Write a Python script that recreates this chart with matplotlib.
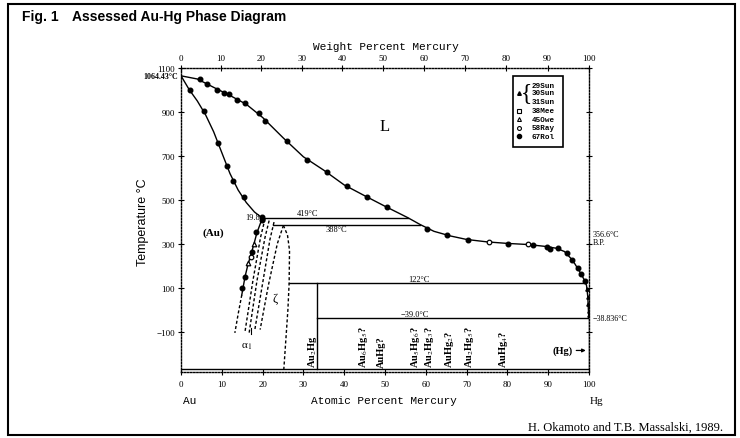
import matplotlib.pyplot as plt
import numpy as np
from matplotlib.patches import Rectangle

W, H = 740, 439

# ---- phase boundaries (atomic % Hg, temperature in C) ----
liq_x = [0, 4, 8, 12, 16, 20, 25, 30, 35, 40, 45, 50, 55.6, 58.6, 62, 66, 70,
         75, 80, 85, 89, 92, 94, 95.5, 96.5, 97.5, 98.3, 99.0, 99.4, 99.7, 99.85, 99.95]
liq_T = [1064.43, 1050, 1012, 975, 935, 875, 783, 696, 635, 568, 519, 471, 419, 388,
         357, 336, 320, 309, 302, 297, 289, 280, 265, 235, 210, 180, 155, 130, 110, 60,
         0, -38.8]

sol_x = [0, 2, 4, 6, 8, 10, 12, 14, 16, 18, 19.8]
sol_T = [1064.43, 1002, 950, 888, 810, 715, 620, 545, 488, 445, 419]

solvus_x = [19.8, 19.6, 18.6, 17.9, 17.2, 16.4, 15.7, 14.9]
solvus_T = [419, 400, 350, 301, 255, 205, 151, 68]
solvus_ext_x = [14.9, 14.0, 13.2]
solvus_ext_T = [68, -20, -105]

a1_lines_x = [[20.6, 19.5, 17.6, 15.7],
              [21.6, 20.6, 18.6, 16.7],
              [22.8, 21.8, 20.0, 18.1],
              [25.1, 23.6, 21.4, 19.4]]
a1_lines_T = [[414, 330, 130, -98],
              [406, 330, 130, -105],
              [399, 320, 120, -90],
              [384, 300, 110, -90]]

zeta_x = [25.1, 26.1, 26.6, 26.5, 26.2, 25.2]
zeta_T = [384, 340, 270, 120, 0, -271]

# invariant lines: (x start, x end, T)
peritectic_419 = (19.8, 55.6, 419)
peritectic_388 = (22.6, 58.6, 388)
peritectic_122 = (26.4, 99.3, 122)
eutectic_m39 = (33.3, 99.95, -38.8)
bottom_T = -271
au2hg_x = 33.3

# ---- experimental points ----
rol_x = [4.66, 6.3, 8.75, 10.5, 11.8, 13.8, 15.7, 19.1, 20.7, 25.9, 30.8, 35.9,
         40.6, 45.5, 50.4, 60.2, 65.1, 70.3, 80.1, 86.3, 89.6, 90.4, 92.5, 94.5,
         95.8, 97.2, 98.0, 99.0,
         2.2, 5.6, 9.1, 11.2, 12.7, 15.4, 19.8,
         19.9, 18.5, 17.3, 15.7, 15.0]
rol_T = [1050, 1028, 998, 988, 981, 956, 941, 895, 858, 767, 682, 625,
         561, 514, 467, 369, 341, 319, 298, 293, 286, 278, 283, 258,
         225, 190, 165, 130,
         998, 903, 757, 652, 584, 512, 421,
         410, 354, 263, 151, 98]
ray_x = [75.5, 85.1, 17.1]
ray_T = [308, 301, 240]
owe_x = [17.9, 16.5]
owe_T = [301, 211]
sun_x = [99.6, 99.75, 99.85, 99.9, 99.92]
sun_T = [95, 60, 25, -5, -25]

compounds = ["Au$_2$Hg", "Au$_6$Hg$_5$?", "AuHg?", "Au$_5$Hg$_6$?", "Au$_2$Hg$_3$?",
             "AuHg$_2$?", "Au$_2$Hg$_5$?", "AuHg$_4$?"]
compound_x = [32.2, 44.7, 49.2, 57.4, 61.0, 65.9, 70.8, 79.0]

legend_labels = ["29Sun", "30Sun", "31Sun", "38Mee", "45Owe", "58Ray", "67Rol"]

SERIF = ["Liberation Serif", "DejaVu Serif"]
MONO = ["Liberation Mono", "DejaVu Sans Mono"]
SANS = ["Liberation Sans", "DejaVu Sans"]
plt.rcParams["mathtext.fontset"] = "stix"


def at_to_wt(a):
    a = np.asarray(a, dtype=float)
    with np.errstate(all="ignore"):
        return 100 * a * 200.59 / (a * 200.59 + (100 - a) * 196.97)


def wt_to_at(w):
    w = np.asarray(w, dtype=float)
    with np.errstate(all="ignore"):
        return 100 * (w / 200.59) / (w / 200.59 + (100 - w) / 196.97)


def fp(x, y):
    return x / W, 1 - y / H


fig = plt.figure(figsize=(W / 100, H / 100), dpi=100)
ax = fig.add_axes([181 / W, 1 - 373 / H, 408 / W, 304 / H])
ax.set_xlim(0, 100)
ax.set_ylim(-283, 1100)

lw = 1.0
dash = (0, (2.2, 1.6))
ax.plot(liq_x, liq_T, color="black", lw=lw)
ax.plot(sol_x, sol_T, color="black", lw=lw)
ax.plot(solvus_x, solvus_T, color="black", lw=lw)
ax.plot(solvus_ext_x, solvus_ext_T, color="black", lw=lw, ls=dash)
for xs, ts in zip(a1_lines_x, a1_lines_T):
    ax.plot(xs, ts, color="black", lw=lw, ls=dash)
ax.plot(zeta_x, zeta_T, color="black", lw=lw, ls=dash)

for x0, x1, t in [peritectic_419, peritectic_388, peritectic_122, eutectic_m39]:
    ax.plot([x0, x1], [t, t], color="black", lw=lw)
ax.plot([0, 100], [bottom_T, bottom_T], color="black", lw=lw)
ax.plot([au2hg_x, au2hg_x], [peritectic_122[2], bottom_T], color="black", lw=lw)
ax.plot([99.95, 99.95], [eutectic_m39[2], bottom_T], color="black", lw=lw)

ms = 3.3
ax.plot(rol_x, rol_T, "o", color="black", ms=ms, ls="none")
ax.plot(ray_x, ray_T, "o", mfc="white", mec="black", ms=ms, mew=0.9, ls="none")
ax.plot(owe_x, owe_T, "^", mfc="white", mec="black", ms=ms, mew=0.9, ls="none")
ax.plot(sun_x, sun_T, "^", color="black", ms=2.4, ls="none")

# ---- axes styling ----
for s in ax.spines.values():
    s.set_linestyle((0, (1, 1.2)))
    s.set_linewidth(1.0)
ax.set_xticks(np.arange(0, 101, 10))
ax.set_yticks(np.arange(-100, 1101, 200))
ax.tick_params(axis="x", direction="inout", length=5, width=0.8, pad=3,
               labelsize=6.5, bottom=True, top=False)
ax.tick_params(axis="y", direction="inout", length=5, width=0.8, pad=2,
               labelsize=6.5, left=True, right=True)
for lab in ax.get_xticklabels() + ax.get_yticklabels():
    lab.set_family(SERIF)

sec = ax.secondary_xaxis("top", functions=(at_to_wt, wt_to_at))
sec.set_xticks(np.arange(0, 101, 10))
sec.tick_params(direction="inout", length=5, width=0.8, pad=2, labelsize=6.5)
sec.spines["top"].set_visible(False)
for lab in sec.get_xticklabels():
    lab.set_family(SERIF)

# ---- labels in data space ----
ax.text(-0.8, 1064.43, "1064.43°C", ha="right", va="center", fontsize=5.8,
        family=SERIF, fontweight="bold")
ax.text(19.3, 421, "19.8", ha="right", va="center", fontsize=6, family=SERIF)
ax.text(31.1, 421, "419°C", ha="center", va="bottom", fontsize=6, family=SERIF)
ax.text(38.2, 384, "388°C", ha="center", va="top", fontsize=6, family=SERIF)
ax.text(58.3, 124, "122°C", ha="center", va="bottom", fontsize=6, family=SERIF)
ax.text(57.4, -37, "−39.0°C", ha="center", va="bottom", fontsize=6, family=SERIF)
ax.text(101.0, 362, "356.6°C\nB.P.", ha="left", va="top", fontsize=5.8,
        family=SERIF, linespacing=1.0)
ax.text(101.0, -38.8, "−38.836°C", ha="left", va="center", fontsize=5.8, family=SERIF)
ax.text(50, 835, "L", ha="center", va="center", fontsize=12, family=SERIF)
ax.text(7.9, 354, "(Au)", ha="center", va="center", fontsize=8, family=SERIF,
        fontweight="bold")
ax.text(23.0, 53, "ζ", ha="center", va="center", fontsize=9, family=SERIF)
ax.text(16.1, -165, "α$_1$", ha="center", va="center", fontsize=8, family=SERIF)
ax.plot([17.1, 17.1], [-85, -112], color="black", lw=0.8)
ax.annotate("", xy=(99.9, -185), xytext=(96.2, -185),
            arrowprops=dict(arrowstyle="-|>", color="black", lw=0.9,
                            mutation_scale=5))
ax.text(96.0, -185, "(Hg)", ha="right", va="center", fontsize=7.5, family=SERIF,
        fontweight="bold")
for lab, x in zip(compounds, compound_x):
    ax.text(x, bottom_T + 12, lab, rotation=90, ha="center", va="bottom",
            fontsize=7.5, family=SERIF, fontweight="bold")

# ---- legend box ----
ax.add_patch(Rectangle((0.813, 0.739), 0.1225, 0.236, transform=ax.transAxes,
                       fill=False, lw=1.2, ec="black"))
rows_y = [0.944, 0.918, 0.889, 0.860, 0.832, 0.803, 0.775]
for lab, y in zip(legend_labels, rows_y):
    ax.text(0.8596, y, lab, transform=ax.transAxes, ha="left", va="center",
            fontsize=5.5, family=MONO, fontweight="bold")
ax.plot([0.829], [rows_y[1]], "^", color="black", ms=2.6, transform=ax.transAxes)
ax.text(0.847, rows_y[1], "{", transform=ax.transAxes, ha="center", va="center",
        fontsize=17, family=SERIF, fontweight="light")
ax.plot([0.829], [rows_y[3]], "s", mfc="white", mec="black", ms=2.8, mew=0.8,
        transform=ax.transAxes)
ax.plot([0.829], [rows_y[4]], "^", mfc="white", mec="black", ms=2.8, mew=0.8,
        transform=ax.transAxes)
ax.plot([0.829], [rows_y[5]], "o", mfc="white", mec="black", ms=2.8, mew=0.8,
        transform=ax.transAxes)
ax.plot([0.829], [rows_y[6]], "o", color="black", ms=3.0, transform=ax.transAxes)

# ---- figure texts ----
fig.text(*fp(22, 17), "Fig. 1", ha="left", va="center", fontsize=10,
         fontweight="bold", family=SANS)
fig.text(*fp(72, 17), "Assessed Au-Hg Phase Diagram", ha="left", va="center",
         fontsize=10, fontweight="bold", family=SANS)
fig.text(*fp(386, 47), "Weight Percent Mercury", ha="center", va="center",
         fontsize=8, family=MONO)
fig.text(*fp(384, 401), "Atomic Percent Mercury", ha="center", va="center",
         fontsize=8, family=MONO)
fig.text(*fp(183, 401), "Au", ha="left", va="center", fontsize=8, family=MONO)
fig.text(*fp(597, 402), "Hg", ha="center", va="center", fontsize=8, family=SERIF)
fig.text(*fp(143, 222), "Temperature °C", ha="center", va="center", fontsize=9,
         rotation=90, family=SANS)
fig.text(*fp(723, 428), "H. Okamoto and T.B. Massalski, 1989.", ha="right",
         va="center", fontsize=9, family=SERIF)

fig.patches.append(Rectangle((8 / W, 1 - 436 / H), 727 / W, 431 / H,
                             transform=fig.transFigure, fill=False, lw=1.5,
                             ec="black"))

fig.savefig("out.png", dpi=100)
